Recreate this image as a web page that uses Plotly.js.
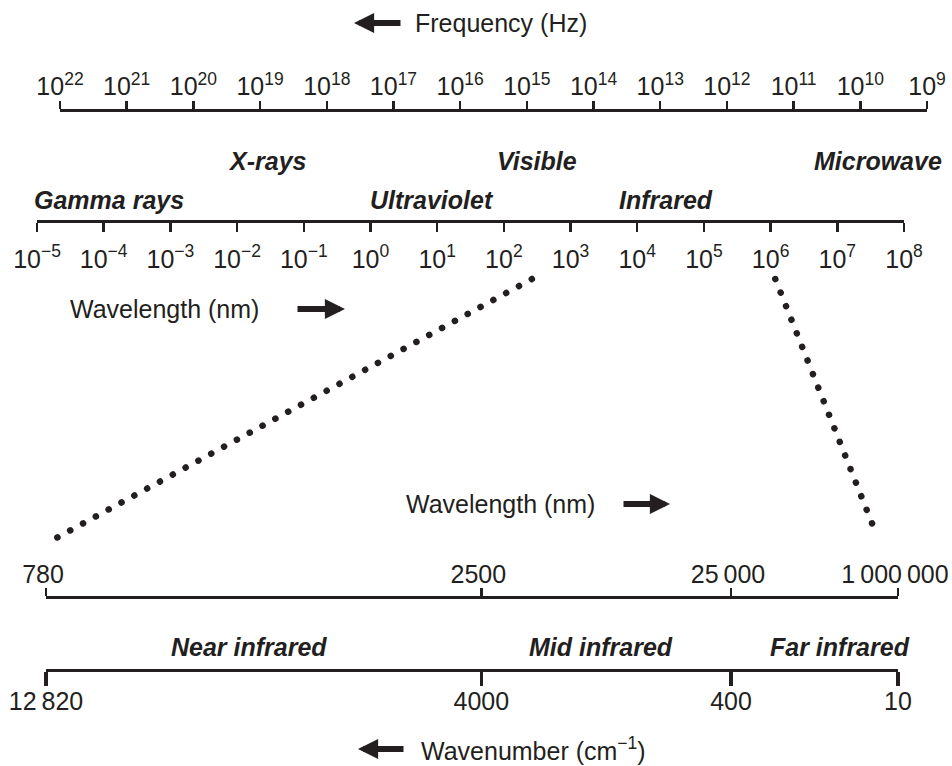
<!DOCTYPE html>
<html><head><meta charset="utf-8">
<script src="https://cdn.plot.ly/plotly-3.0.1.min.js"></script>
<style>
html,body{margin:0;padding:0;background:#fff;}
#chart{width:952px;height:766px;}
.scatterlayer .js-line{stroke-linecap:round;}
</style></head><body><div id="chart"></div>
<script>
// ---------------- data ----------------
const frequencyExponents = [22,21,20,19,18,17,16,15,14,13,12,11,10,9];          // Hz, log10
const wavelengthExponents = [-5,-4,-3,-2,-1,0,1,2,3,4,5,6,7,8];                  // nm, log10
const bandNames = ["Gamma rays","X-rays","Ultraviolet","Visible","Infrared","Microwave"];
const bandCenterLog10Nm = [-3.92,-1.55,0.92,2.50,4.43,7.61];
const irEdgesNm = [780, 2500, 25000, 1000000];
const irEdgesWavenumber = [12820, 4000, 400, 10];
const irBandNames = ["Near infrared","Mid infrared","Far infrared"];
const connectorTopLog10Nm = [2.42, 6.07];

// ---------------- layout constants ----------------
const W = 952, H = 766;
const INK = "#231f20";
const FONT = "'Liberation Sans', Arial, Helvetica, sans-serif";
const FS = 25;
const freqDomainPx = [60, 927];
const wlDomainPx = [37, 904];
const irDomainPx = [46, 898];
const freqLineY = 110, wlLineY = 221, irWlLineY = 597, wnLineY = 670;
const bandRowY = {1: 161, 2: 200};
const bandRow = [2,1,2,1,2,1];
const irEdgeDiagramPos = [0, 0.511, 0.804, 1];   // schematic (not-to-scale) positions
const irBandDiagramPos = [0.238, 0.651, 0.932];
const irBandY = 647;
const connectorBottomDiagramPos = [0.012, 0.974];
const connectorTopY = 279, connectorBottomY = [538, 533];

const px = v => v / W;
const py = v => 1 - v / H;
const dom = d => [d[0] / W, d[1] / W];
const supLabel = e => "10<sup>" + (e < 0 ? "\u2212" + (-e) : e) + "</sup>";
const fmtNum = n => n >= 10000 ? String(n).replace(/\B(?=(\d{3})+(?!\d))/g, "\u2009") : String(n);

const common = {
  showgrid:false, zeroline:false, showline:true, linecolor:INK, linewidth:2.5,
  ticks:"outside", tickcolor:INK, tickwidth:2.5, tickmode:"array",
  tickfont:{family:FONT, size:FS, color:INK}, fixedrange:true, anchor:"free",
  ticklabeloverflow:"allow"
};

const wlRange = [wavelengthExponents[0], wavelengthExponents[wavelengthExponents.length-1]];
const wlToPx = lg => wlDomainPx[0] + (lg - wlRange[0]) / (wlRange[1] - wlRange[0]) * (wlDomainPx[1] - wlDomainPx[0]);
const irToPx = p => irDomainPx[0] + p * (irDomainPx[1] - irDomainPx[0]);

const layout = {
  width:W, height:H, margin:{l:0,r:0,t:0,b:0,pad:0},
  paper_bgcolor:"#fff", plot_bgcolor:"rgba(0,0,0,0)", showlegend:false,
  font:{family:FONT, size:FS, color:INK},
  xaxis: Object.assign({}, common, {
    type:"log", domain:dom(freqDomainPx),
    range:[frequencyExponents[0], frequencyExponents[frequencyExponents.length-1]],
    side:"top", position:py(freqLineY), ticklen:8, ticklabelstandoff:-4,
    tickvals:frequencyExponents.map(e => Math.pow(10, e)),
    ticktext:frequencyExponents.map(supLabel)
  }),
  xaxis2: Object.assign({}, common, {
    type:"log", domain:dom(wlDomainPx), range:wlRange,
    side:"bottom", position:py(wlLineY), ticklen:9, ticklabelstandoff:6,
    tickvals:wavelengthExponents.map(e => Math.pow(10, e)),
    ticktext:wavelengthExponents.map(supLabel)
  }),
  xaxis3: Object.assign({}, common, {
    type:"linear", domain:dom(irDomainPx), range:[0,1],
    side:"top", position:py(irWlLineY), ticklen:8, ticklabelstandoff:-5, ticklabelshift:-3,
    tickvals:irEdgeDiagramPos, ticktext:irEdgesNm.map(fmtNum)
  }),
  xaxis4: Object.assign({}, common, {
    type:"linear", domain:dom(irDomainPx), range:[0,1],
    side:"bottom", position:py(wnLineY), ticklen:14, tickwidth:3.5, ticklabelstandoff:-6,
    tickvals:irEdgeDiagramPos, ticktext:irEdgesWavenumber.map(fmtNum)
  }),
  xaxis5: {domain:[0,1], range:[0,W], visible:false, fixedrange:true, anchor:"y2"},
  yaxis: {domain:[0,1], range:[0,1], visible:false, fixedrange:true},
  yaxis2: {domain:[0,1], range:[H,0], visible:false, fixedrange:true, anchor:"x5"},
  annotations: []
};

// band labels
bandNames.forEach((name, i) => {
  layout.annotations.push({
    text:name, xref:"x2", x:bandCenterLog10Nm[i], yref:"paper", y:py(bandRowY[bandRow[i]]),
    xanchor:"center", yanchor:"middle", showarrow:false,
    font:{family:FONT, size:FS, color:INK, weight:"bold", style:"italic"}
  });
});
irBandNames.forEach((name, i) => {
  layout.annotations.push({
    text:name, xref:"x3", x:irBandDiagramPos[i], yref:"paper", y:py(irBandY),
    xanchor:"center", yanchor:"middle", showarrow:false,
    font:{family:FONT, size:FS, color:INK, weight:"bold", style:"italic"}
  });
});

// titles with arrows
function title(text, leftPx, yPx) {
  layout.annotations.push({text:text, xref:"paper", yref:"paper", x:px(leftPx), y:py(yPx),
    xanchor:"left", yanchor:"middle", showarrow:false, font:{family:FONT, size:FS, color:INK}});
}
function arrow(tailPx, headPx, yPx) {
  layout.annotations.push({text:"", xref:"paper", yref:"paper", x:px(headPx), y:py(yPx),
    ax:tailPx - headPx, ay:0, showarrow:true, arrowhead:2, arrowwidth:6, arrowsize:0.67,
    arrowcolor:INK, standoff:0});
}
title("Frequency (Hz)", 413, 23);  arrow(402, 354, 23);
title("Wavelength (nm)", 68, 309); arrow(296, 345, 309);
title("Wavelength (nm)", 404, 504); arrow(622, 670, 504);
title("Wavenumber (cm<sup>\u22121</sup>)", 419, 749); arrow(405, 358, 749);

// traces: one anchor trace per axis, plus dotted connectors
const data = [
  {x:[Math.pow(10, frequencyExponents[0])], y:[0.5], xaxis:"x", yaxis:"y", mode:"markers", marker:{opacity:0}, hoverinfo:"skip"},
  {x:[Math.pow(10, wavelengthExponents[0])], y:[0.5], xaxis:"x2", yaxis:"y", mode:"markers", marker:{opacity:0}, hoverinfo:"skip"},
  {x:[irEdgeDiagramPos[0]], y:[0.5], xaxis:"x3", yaxis:"y", mode:"markers", marker:{opacity:0}, hoverinfo:"skip"},
  {x:[irEdgeDiagramPos[0]], y:[0.5], xaxis:"x4", yaxis:"y", mode:"markers", marker:{opacity:0}, hoverinfo:"skip"}
];
connectorTopLog10Nm.forEach((lg, i) => {
  data.push({
    x:[wlToPx(lg), irToPx(connectorBottomDiagramPos[i])],
    y:[connectorTopY, connectorBottomY[i]],
    xaxis:"x5", yaxis:"y2", mode:"lines", hoverinfo:"skip",
    line:{color:INK, width:6.5, dash:"0.1px,14.5px"}
  });
});

Plotly.newPlot("chart", data, layout, {staticPlot:true, displayModeBar:false});
</script></body></html>
